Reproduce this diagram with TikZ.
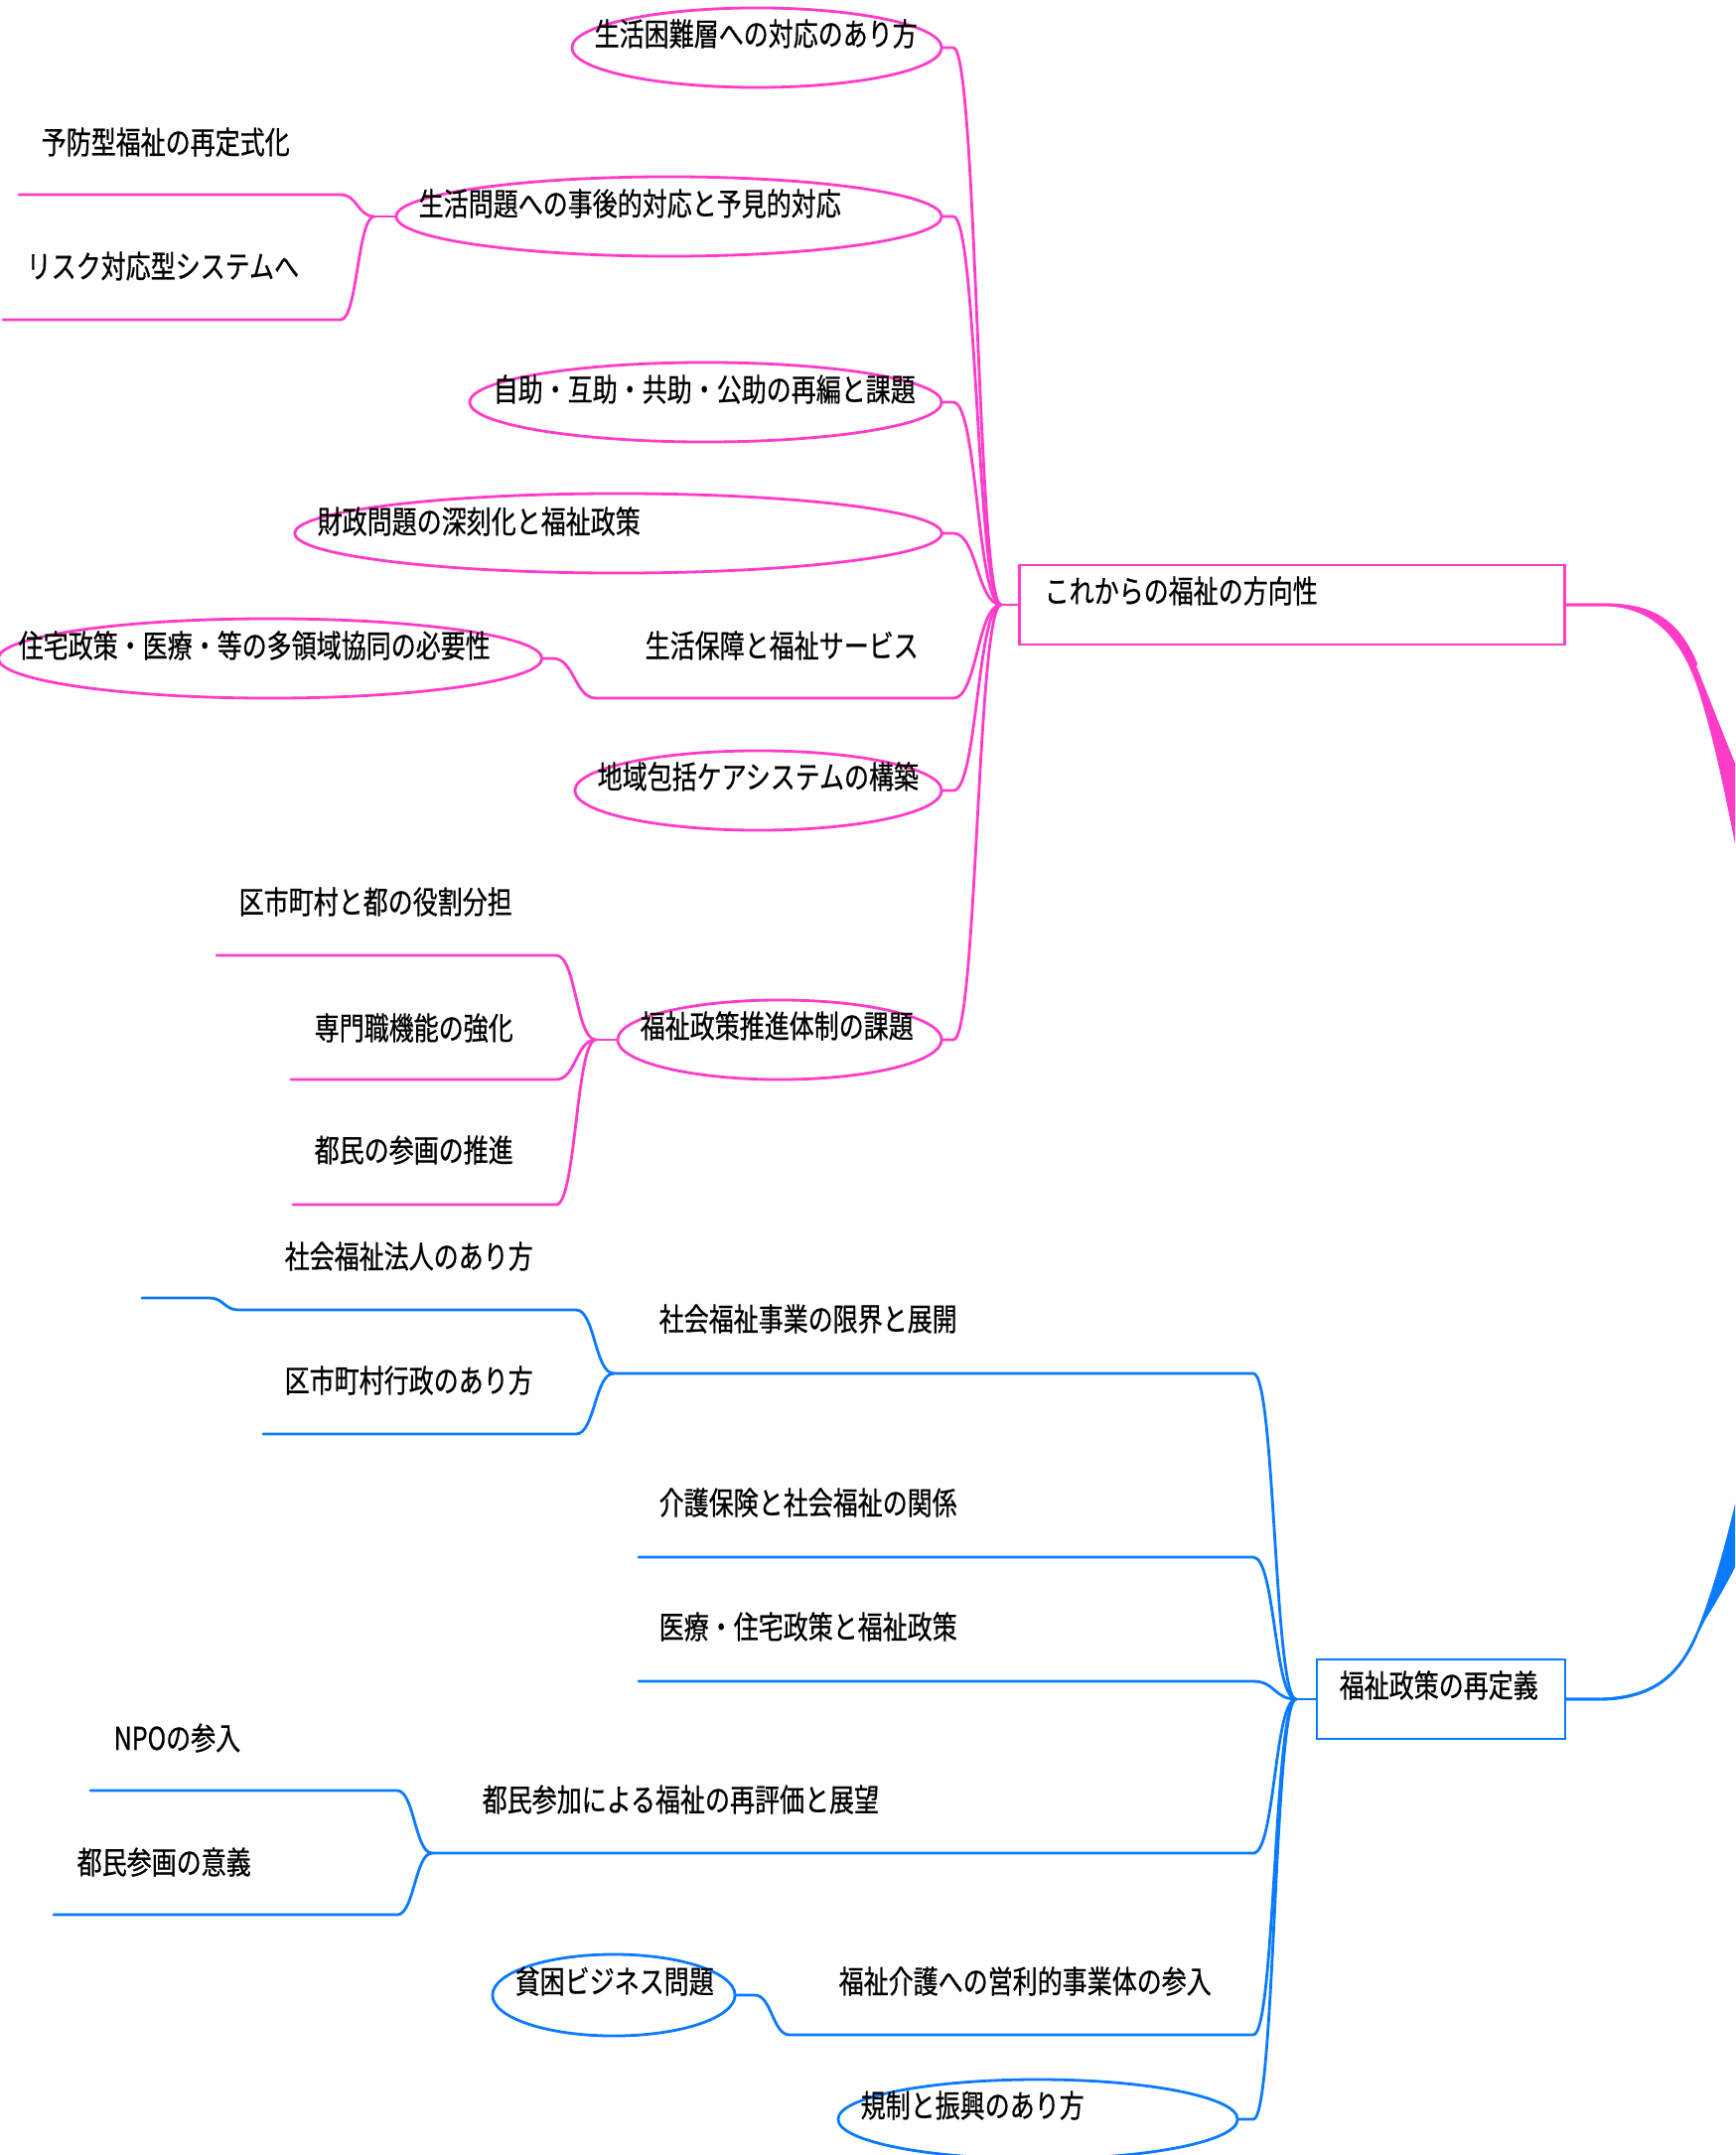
\documentclass[tikz,border=0pt]{standalone}
\usepackage{fontspec}
\newfontfamily\jpfont[FakeStretch=0.79,FakeBold=0.6]{Noto Sans CJK JP}
\usetikzlibrary{shapes.geometric}
\definecolor{pinkc}{RGB}{255,60,200}
\definecolor{bluec}{RGB}{10,122,255}
\tikzset{
  txt/.style={inner sep=0pt, anchor=base west, font=\jpfont\fontsize{9pt}{10pt}\selectfont, text=black},
  pline/.style={draw=pinkc, line width=0.028cm, line cap=round, line join=round},
  bline/.style={draw=bluec, line width=0.028cm, line cap=round, line join=round},
  pell/.style={ellipse, draw=pinkc, line width=0.028cm, inner sep=0pt, minimum height=0.8cm},
  bell/.style={ellipse, draw=bluec, line width=0.028cm, inner sep=0pt, minimum height=0.8cm},
  pinkbox/.style={rectangle, draw=pinkc, line width=0.028cm, inner sep=0pt, minimum height=0.8cm},
  bluebox/.style={rectangle, draw=bluec, line width=0.028cm, inner sep=0pt, minimum height=0.8cm},
}
\begin{document}
\begin{tikzpicture}[x=0.01cm, y=-0.01cm]
\useasboundingbox (0,0) rectangle (1747,2170);
\clip (0,0) rectangle (1747,2170);

% ---------------- pink branch ----------------
\node[pinkbox, minimum width=5.48cm] (A) at (1301,609) {};
\node[txt] (At) at (1051,607) {これからの福祉の方向性};
\coordinate (hA) at (1008,609);

\node[pell, minimum width=3.72cm] (e1) at (762,48) {};
\node[txt] (e1t) at (598,46) {生活困難層への対応のあり方};

\node[pell, minimum width=5.49cm] (e2) at (673.5,218) {};
\node[txt] (e2t) at (421,217) {生活問題への事後的対応と予見的対応};

\node[pell, minimum width=4.75cm] (e3) at (710.5,405) {};
\node[txt] (e3t) at (496,404) {自助・互助・共助・公助の再編と課題};

\node[pell, minimum width=6.51cm] (e4) at (622.5,537) {};
\node[txt] (e4t) at (319,537) {財政問題の深刻化と福祉政策};

\node[txt] (p5) at (649,662) {生活保障と福祉サービス};
\coordinate (p5l) at (600,703);
\coordinate (p5r) at (960,703);

\node[pell, minimum width=5.47cm] (e5a) at (272,663) {};
\node[txt] (e5at) at (18,662) {住宅政策・医療・等の多領域協同の必要性};

\node[pell, minimum width=3.69cm] (e6) at (763.5,796) {};
\node[txt] (e6t) at (601,794) {地域包括ケアシステムの構築};

\node[pell, minimum width=3.26cm] (e7) at (785,1047) {};
\node[txt] (e7t) at (644,1045) {福祉政策推進体制の課題};

\node[txt] (c2a) at (41,155) {予防型福祉の再定式化};
\node[txt] (c2b) at (26,280) {リスク対応型システムへ};
\coordinate (h2) at (377,218);

\node[txt] (c7a) at (240,920) {区市町村と都の役割分担};
\node[txt] (c7b) at (316,1047) {専門職機能の強化};
\node[txt] (c7c) at (316,1170) {都民の参画の推進};
\coordinate (h7) at (600,1047);

% pink connectors to the box
\draw[pline] (A.west) -- (hA);
\draw[pline] (e1.east) -- (960,48) .. controls +(24,0) and +(-24,0) .. (hA);
\draw[pline] (e2.east) -- (960,218) .. controls +(24,0) and +(-24,0) .. (hA);
\draw[pline] (e3.east) -- (960,405) .. controls +(24,0) and +(-24,0) .. (hA);
\draw[pline] (e4.east) -- (960,537) .. controls +(24,0) and +(-24,0) .. (hA);
\draw[pline] (p5l) -- (p5r) .. controls +(24,0) and +(-24,0) .. (hA);
\draw[pline] (e6.east) -- (960,796) .. controls +(24,0) and +(-24,0) .. (hA);
\draw[pline] (e7.east) -- (960,1047) .. controls +(24,0) and +(-24,0) .. (hA);

% pink sub connectors
\draw[pline] (e2.west) -- (h2);
\draw[pline] (h2) .. controls +(-17,0) and +(17,0) .. (343,196) -- (19,196);
\draw[pline] (h2) .. controls +(-17,0) and +(17,0) .. (343,322) -- (3,322);
\draw[pline] (e5a.east) -- (557,663) .. controls +(21,0) and +(-21,0) .. (p5l);
\draw[pline] (e7.west) -- (h7);
\draw[pline] (h7) .. controls +(-20,0) and +(20,0) .. (560,962) -- (218,962);
\draw[pline] (h7) .. controls +(-20,0) and +(20,0) .. (560,1087) -- (293,1087);
\draw[pline] (h7) .. controls +(-20,0) and +(20,0) .. (560,1213) -- (295,1213);

% pink tapered branch to the root (off the right edge)
\fill[pinkc] (1576,607.6) -- (1615,607.6) .. controls (1665,607.6) and (1690,625) .. (1707,668)
  .. controls (1722,705) and (1737,745) .. (1760,800) -- (1775,800) -- (1775,900) -- (1755,890)
  .. controls (1745,840) and (1732,770) .. (1717,718)
  .. controls (1705,675) and (1685,611) .. (1615,610.4) -- (1576,610.4) -- cycle;
\draw[pline] (A.east) -- (1615,609) .. controls (1665,609) and (1690,626) .. (1708,669);

% ---------------- blue branch ----------------
\node[bluebox, minimum width=2.50cm] (B) at (1451,1711) {};
\node[txt] (Bt) at (1348,1709) {福祉政策の再定義};
\coordinate (hB) at (1305,1711);

\node[txt] (b1) at (663,1340) {社会福祉事業の限界と展開};
\node[txt] (c1a) at (286,1277) {社会福祉法人のあり方};
\node[txt] (c1b) at (286,1402) {区市町村行政のあり方};
\coordinate (h1) at (618,1383);

\node[txt] (b2) at (663,1525) {介護保険と社会福祉の関係};
\node[txt] (b3) at (663,1650) {医療・住宅政策と福祉政策};

\node[txt] (b4) at (485,1824) {都民参加による福祉の再評価と展望};
\node[txt] (c4a) at (114,1762) {NPOの参入};
\node[txt] (c4b) at (77,1887) {都民参画の意義};
\coordinate (h4) at (435,1866);

\node[txt] (b5) at (844,2007) {福祉介護への営利的事業体の参入};
\coordinate (h5) at (795,2049);
\node[bell, minimum width=2.44cm, minimum height=0.82cm] (c5a) at (618,2009) {};
\node[txt] (c5at) at (518,2007) {貧困ビジネス問題};

\node[bell, minimum width=4.02cm] (b6) at (1045,2134) {};
\node[txt] (b6t) at (866,2132) {規制と振興のあり方};

% blue connectors to the box
\draw[bline] (B.west) -- (hB);
\draw[bline] (h1) -- (1262,1383) .. controls +(22,0) and +(-22,0) .. (hB);
\draw[bline] (643,1568) -- (1262,1568) .. controls +(22,0) and +(-22,0) .. (hB);
\draw[bline] (643,1693) -- (1262,1693) .. controls +(22,0) and +(-22,0) .. (hB);
\draw[bline] (h4) -- (1262,1866) .. controls +(22,0) and +(-22,0) .. (hB);
\draw[bline] (h5) -- (1262,2049) .. controls +(22,0) and +(-22,0) .. (hB);
\draw[bline] (b6.east) -- (1262,2134) .. controls +(22,0) and +(-22,0) .. (hB);

% blue sub connectors
\draw[bline] (h1) .. controls +(-19,0) and +(19,0) .. (580,1319) -- (240,1319)
  .. controls +(-14,0) and +(14,0) .. (211,1307) -- (143,1307);
\draw[bline] (h1) .. controls +(-19,0) and +(19,0) .. (580,1444) -- (265,1444);
\draw[bline] (h4) .. controls +(-17,0) and +(17,0) .. (400,1803) -- (91,1803);
\draw[bline] (h4) .. controls +(-17,0) and +(17,0) .. (400,1928) -- (54,1928);
\draw[bline] (c5a.east) -- (760,2009) .. controls +(17,0) and +(-17,0) .. (h5);

% blue tapered branch to the root (off the right edge)
\fill[bluec] (1576,1709.6) -- (1612,1709.6) .. controls (1660,1708) and (1688,1690) .. (1707,1646)
  .. controls (1722,1610) and (1737,1560) .. (1755,1480) -- (1775,1480) -- (1775,1560) -- (1760,1550)
  .. controls (1745,1585) and (1730,1610) .. (1717,1631)
  .. controls (1700,1665) and (1680,1712.4) .. (1612,1712.4) -- (1576,1712.4) -- cycle;
\draw[bline] (B.east) -- (1612,1711) .. controls (1660,1710) and (1688,1692) .. (1708,1647);
\end{tikzpicture}
\end{document}
